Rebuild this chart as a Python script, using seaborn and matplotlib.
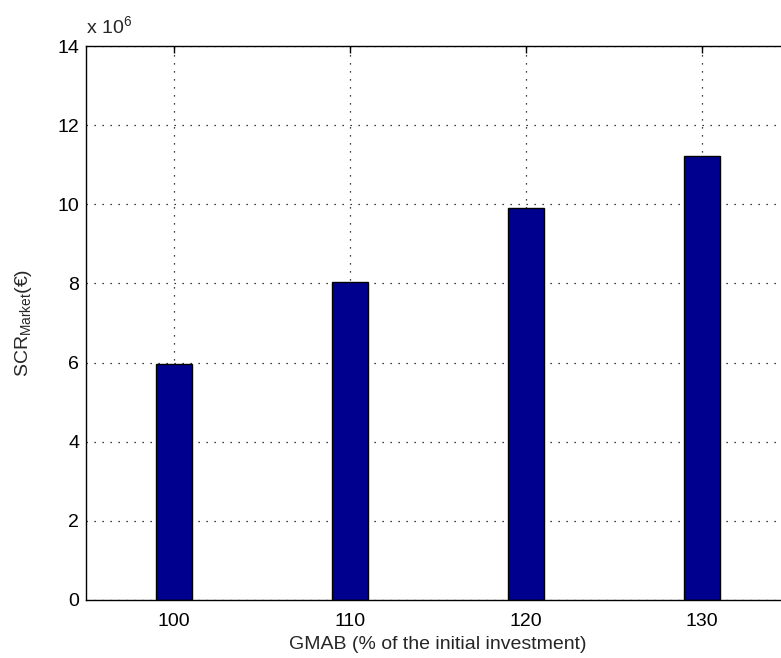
import numpy as np
import pandas as pd
import matplotlib
matplotlib.use('Agg')
import matplotlib.pyplot as plt
import seaborn as sns
from matplotlib.ticker import FuncFormatter

# Data
gmab = [100, 110, 120, 130]
scr_market = [5.96e6, 8.04e6, 9.91e6, 11.23e6]
y_ticks = [0, 2e6, 4e6, 6e6, 8e6, 10e6, 12e6, 14e6]

df = pd.DataFrame({'GMAB': gmab, 'SCR': scr_market})

sns.set_style('white')
plt.rcParams['font.family'] = ['Liberation Sans', 'DejaVu Sans']
plt.rcParams['font.size'] = 14

fig = plt.figure(figsize=(7.81, 6.58), dpi=100)
# right edge of the axes runs past the picture, as in the reference crop
ax = fig.add_axes([86 / 781, 58 / 658, 704 / 781, 554 / 658])

sns.barplot(data=df, x='GMAB', y='SCR', native_scale=True, width=0.2,
            color='#00008F', saturation=1, edgecolor='black', linewidth=1, ax=ax)

ax.set_xlim(95, 135)
ax.set_ylim(0, 14e6)
ax.set_xticks(gmab)
ax.set_yticks(y_ticks)
ax.yaxis.set_major_formatter(FuncFormatter(lambda v, p: f'{v / 1e6:g}'))
ax.set_axisbelow(True)
ax.grid(True, linestyle=(0, (1, 5.4)), color='black', linewidth=0.9)
ax.tick_params(direction='in', top=True, right=True, length=5, width=1,
               labelsize=14, colors='black')
ax.tick_params(axis='x', pad=9)
ax.tick_params(axis='y', pad=5)
for s in ax.spines.values():
    s.set_visible(True)
    s.set_color('black')
    s.set_linewidth(1)

ax.set_xlabel('GMAB (% of the initial investment)', fontsize=14, labelpad=5)
ax.set_ylabel('SCR$_{\\mathregular{Market}}$(€)', fontsize=14, labelpad=17)
ax.text(0.0, 1.015, 'x 10$^{\\mathregular{6}}$', transform=ax.transAxes,
        fontsize=14, ha='left', va='bottom')

fig.savefig('out.png', dpi=100)
